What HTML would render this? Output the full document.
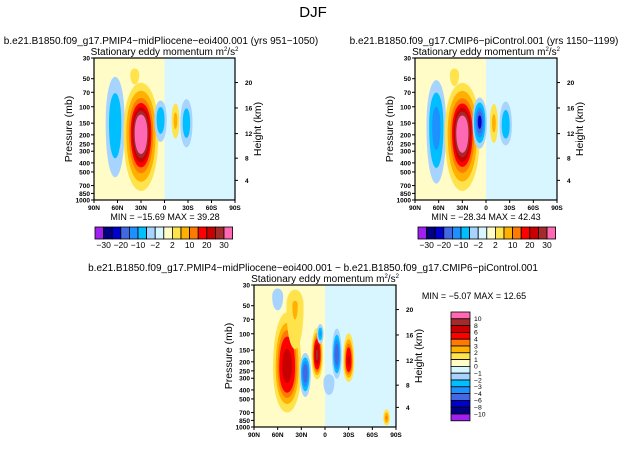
<!DOCTYPE html>
<html><head><meta charset="utf-8"><style>
body{margin:0;background:#fff}
svg text{font-family:"Liberation Sans",sans-serif;fill:#000}
</style></head><body>
<svg id="chart" width="627" height="444" viewBox="0 0 627 444" xmlns="http://www.w3.org/2000/svg">
<text x="313" y="17" font-size="15" text-anchor="middle">DJF</text>
</svg>
<script>
// ---- data ----
const pressureTicks=[30,50,70,100,150,200,250,300,400,500,700,850,1000];
const heightTicks=[20,16,12,8,4];
const heightTickP=[55,103,194,356,616];
const latTickVals=[90,60,30,0,-30,-60,-90];
const latTickLabels=['90N','60N','30N','0','30S','60S','90S'];
const palette=['#a020f0','#000080','#0000cd','#4169e1','#1e90ff','#00bfff','#a6d4ff','#d8f6ff','#fffcc8','#ffe34d','#ffb000','#ff7a00','#ff0000','#c80000','#a52a2a','#ff69b4'];
const levelsA=[-30,-25,-20,-15,-10,-5,-2,0,2,5,10,15,20,25,30];
const labelsA=['-30','-20','-10','-2','2','10','20','30'];
const levelsB=[-10,-8,-6,-4,-3,-2,-1,0,1,2,3,4,6,8,10];
const labelsB=['10','8','6','4','3','2','1','0','-1','-2','-3','-4','-6','-8','-10'];
// blobs: centre lat, centre pressure, lat half-width, top p, bottom p, peak value
const p1Lat=[63,30,5,-14,-28,38,-75];
const p1P=[150,190,135,140,150,45,600];
const p1W=[14,24,9,6,9,16,12];
const p1Top=[40,50,80,85,75,30,300];
const p1Bot=[700,900,260,240,300,90,1000];
const p1Val=[-9,42,-9,6,-8,2,1];
const p2Lat=[63,30,8,-10,-25,40,-75];
const p2P=[160,190,145,150,160,45,600];
const p2W=[14,24,10,6,9,16,12];
const p2Top=[45,50,75,85,80,30,300];
const p2Bot=[800,900,300,270,280,100,1000];
const p2Val=[-13,40,-22,6,-9,2,1];
const p3Lat=[48,25,10,-15,-30,6,60,38,-5,-78];
const p3P=[230,260,170,170,200,100,40,50,330,800];
const p3W=[20,8,8,7,8,5,10,14,10,5];
const p3Top=[50,150,80,80,90,75,30,30,250,620];
const p3Bot=[800,520,330,330,350,135,65,200,520,1000];
const p3Val=[7,-5,8,-5,6,-3,-1.5,2,-1.5,3];

const svg=document.getElementById('chart');
const NS='http://www.w3.org/2000/svg';
function mk(tag,attrs,parent){const e=document.createElementNS(NS,tag);for(const k in attrs)e.setAttribute(k,attrs[k]);(parent||svg).appendChild(e);return e;}
function colorFor(v,levels){let i=0;while(i<levels.length&&v>=levels[i])i++;return palette[i];}

function panel(o){
  const X=lat=>o.x0+(90-lat)/180*o.w;
  const lp0=Math.log(30),lp1=Math.log(1000);
  const Y=p=>o.y0+(Math.log(p)-lp0)/(lp1-lp0)*o.h;
  const g=mk('g',{});
  
  
  const cid='clip'+o.name;
  const cp=mk('clipPath',{id:cid},g);mk('rect',{x:o.x0,y:o.y0,width:o.w,height:o.h},cp);
  const area=mk('g',{'clip-path':'url(#'+cid+')'},g);
  const bgL=mk('rect',{x:o.x0,y:o.y0,width:X(o.split)-o.x0,height:o.h,fill:palette[8]},area);
  
  
  const bgR=mk('rect',{x:X(o.split),y:o.y0,width:o.x0+o.w-X(o.split),height:o.h,fill:palette[7]},area);
  
  
  for(let b=0;b<o.lat.length;b++){
    const v=o.val[b],sgn=Math.sign(v);
    const start=o.levels.filter(l=>l*sgn>0&&Math.abs(l)<=Math.abs(v)).sort((a,c)=>Math.abs(a)-Math.abs(c));
    if(!start.length)continue;
    const cx=X(o.lat[b]),cy=Y(o.p[b]);
    const yt=Y(o.top[b]),yb=Y(o.bot[b]);
    const rx=o.wl[b]/180*o.w;
    const V=Math.abs(v),l0=Math.abs(start[0])*0.6;
    start.forEach(l=>{
      const s=Math.sqrt(Math.max(0.04,Math.log(V*1.08/Math.abs(l))/Math.log(V*1.08/l0)));
      const ry1=(cy-yt)*s,ry2=(yb-cy)*s,r=rx*s;
      const d=`M${cx-r},${cy} C${cx-r},${cy-ry1*1.33} ${cx+r},${cy-ry1*1.33} ${cx+r},${cy} C${cx+r},${cy+ry2*1.33} ${cx-r},${cy+ry2*1.33} ${cx-r},${cy}Z`;
      const e=mk('path',{d:d,fill:colorFor(l+sgn*0.001,o.levels)},area);
      
      
    });
  }
  mk('rect',{x:o.x0,y:o.y0,width:o.w,height:o.h,fill:'none',stroke:'#000','stroke-width':1.2},g);
  pressureTicks.forEach(p=>{
    mk('line',{x1:o.x0-3,x2:o.x0,y1:Y(p),y2:Y(p),stroke:'#000'},g);
    const t=mk('text',{x:o.x0-4,y:Y(p)+2.5,'font-size':6.5,'text-anchor':'end','font-weight':'bold'},g);t.textContent=p;
    
    
  });
  heightTicks.forEach((h,i)=>{
    const y=Y(heightTickP[i]);
    mk('line',{x1:o.x0+o.w,x2:o.x0+o.w+3,y1:y,y2:y,stroke:'#000'},g);
    const t=mk('text',{x:o.x0+o.w+10,y:y+2.5,'font-size':6.5,'font-weight':'bold'},g);t.textContent=h;
    
    
  });
  latTickVals.forEach((l,i)=>{
    mk('line',{x1:X(l),x2:X(l),y1:o.y0+o.h,y2:o.y0+o.h+3,stroke:'#000'},g);
    const t=mk('text',{x:X(l),y:o.y0+o.h+10,'font-size':6.5,'text-anchor':'middle','font-weight':'bold'},g);t.textContent=latTickLabels[i];
    
    
  });
  const yl=mk('text',{x:0,y:0,'font-size':10.5,'text-anchor':'middle',transform:`translate(${o.x0-22},${o.y0+o.h/2}) rotate(-90)`},g);yl.textContent='Pressure (mb)';
  
  
  const yr=mk('text',{x:0,y:0,'font-size':10.5,'text-anchor':'middle',transform:`translate(${o.x0+o.w+26},${o.y0+o.h/2}) rotate(-90)`},g);yr.textContent='Height (km)';
  
  
  const st=mk('text',{x:o.x0+o.w/2,y:o.y0-3,'font-size':10,'text-anchor':'middle'},g);
  st.innerHTML='Stationary eddy momentum  m<tspan font-size="6" dy="-4">2</tspan><tspan dy="4">/s</tspan><tspan font-size="6" dy="-4">2</tspan>';
  
  
  const tt=mk('text',{x:o.tx,y:o.y0-14,'font-size':10,'text-anchor':'middle'},g);tt.textContent=o.title;
  
  
  const mm=mk('text',{x:o.mx,y:o.my,'font-size':9,'text-anchor':'middle'},g);mm.textContent=o.minmax;
  
  
}

function hbar(x0,y0){
  const bw=8.6;
  palette.forEach((c,i)=>{
    const r=mk('rect',{x:x0+i*bw,y:y0,width:bw,height:12,fill:c,stroke:'#000','stroke-width':0.8});
    
    
  });
  labelsA.forEach((l,i)=>{
    const t=mk('text',{x:x0+(2*i+1)*bw,y:y0+21,'font-size':8.5,'text-anchor':'middle'});t.textContent=l.replace('-','\u2212');
    
    
  });
}

panel({name:'panel-midpliocene',x0:94,y0:58,w:141,h:142,split:0,lat:p1Lat,p:p1P,wl:p1W,top:p1Top,bot:p1Bot,val:p1Val,levels:levelsA,
  title:'b.e21.B1850.f09_g17.PMIP4\u2212midPliocene\u2212eoi400.001  (yrs 951\u22121050)',tx:161,minmax:'MIN = \u221215.69    MAX =  39.28',mx:165,my:220});
panel({name:'panel-picontrol',x0:415,y0:58,w:142,h:142,split:0,lat:p2Lat,p:p2P,wl:p2W,top:p2Top,bot:p2Bot,val:p2Val,levels:levelsA,
  title:'b.e21.B1850.f09_g17.CMIP6\u2212piControl.001  (yrs 1150\u22121199)',tx:484,minmax:'MIN = \u221228.34    MAX =  42.43',mx:486,my:220});
panel({name:'panel-difference',x0:254,y0:285,w:142,h:142,split:0,lat:p3Lat,p:p3P,wl:p3W,top:p3Top,bot:p3Bot,val:p3Val,levels:levelsB,
  title:'b.e21.B1850.f09_g17.PMIP4\u2212midPliocene\u2212eoi400.001  \u2212  b.e21.B1850.f09_g17.CMIP6\u2212piControl.001',tx:313,minmax:'MIN =  \u22125.07    MAX =  12.65',mx:474,my:299});
hbar(95,227);
hbar(418,227);
// vertical bar
const vb=[...palette].reverse();
vb.forEach((c,i)=>{
  const r=mk('rect',{x:451,y:312+i*6.8,width:19,height:6.8,fill:c,stroke:'#000','stroke-width':0.8});
  
  
});
labelsB.forEach((l,i)=>{
  const t=mk('text',{x:474,y:312+(i+1)*6.8+2.3,'font-size':6.8});t.textContent=l.replace('-','\u2212');
  
  
});
</script>
</body></html>
